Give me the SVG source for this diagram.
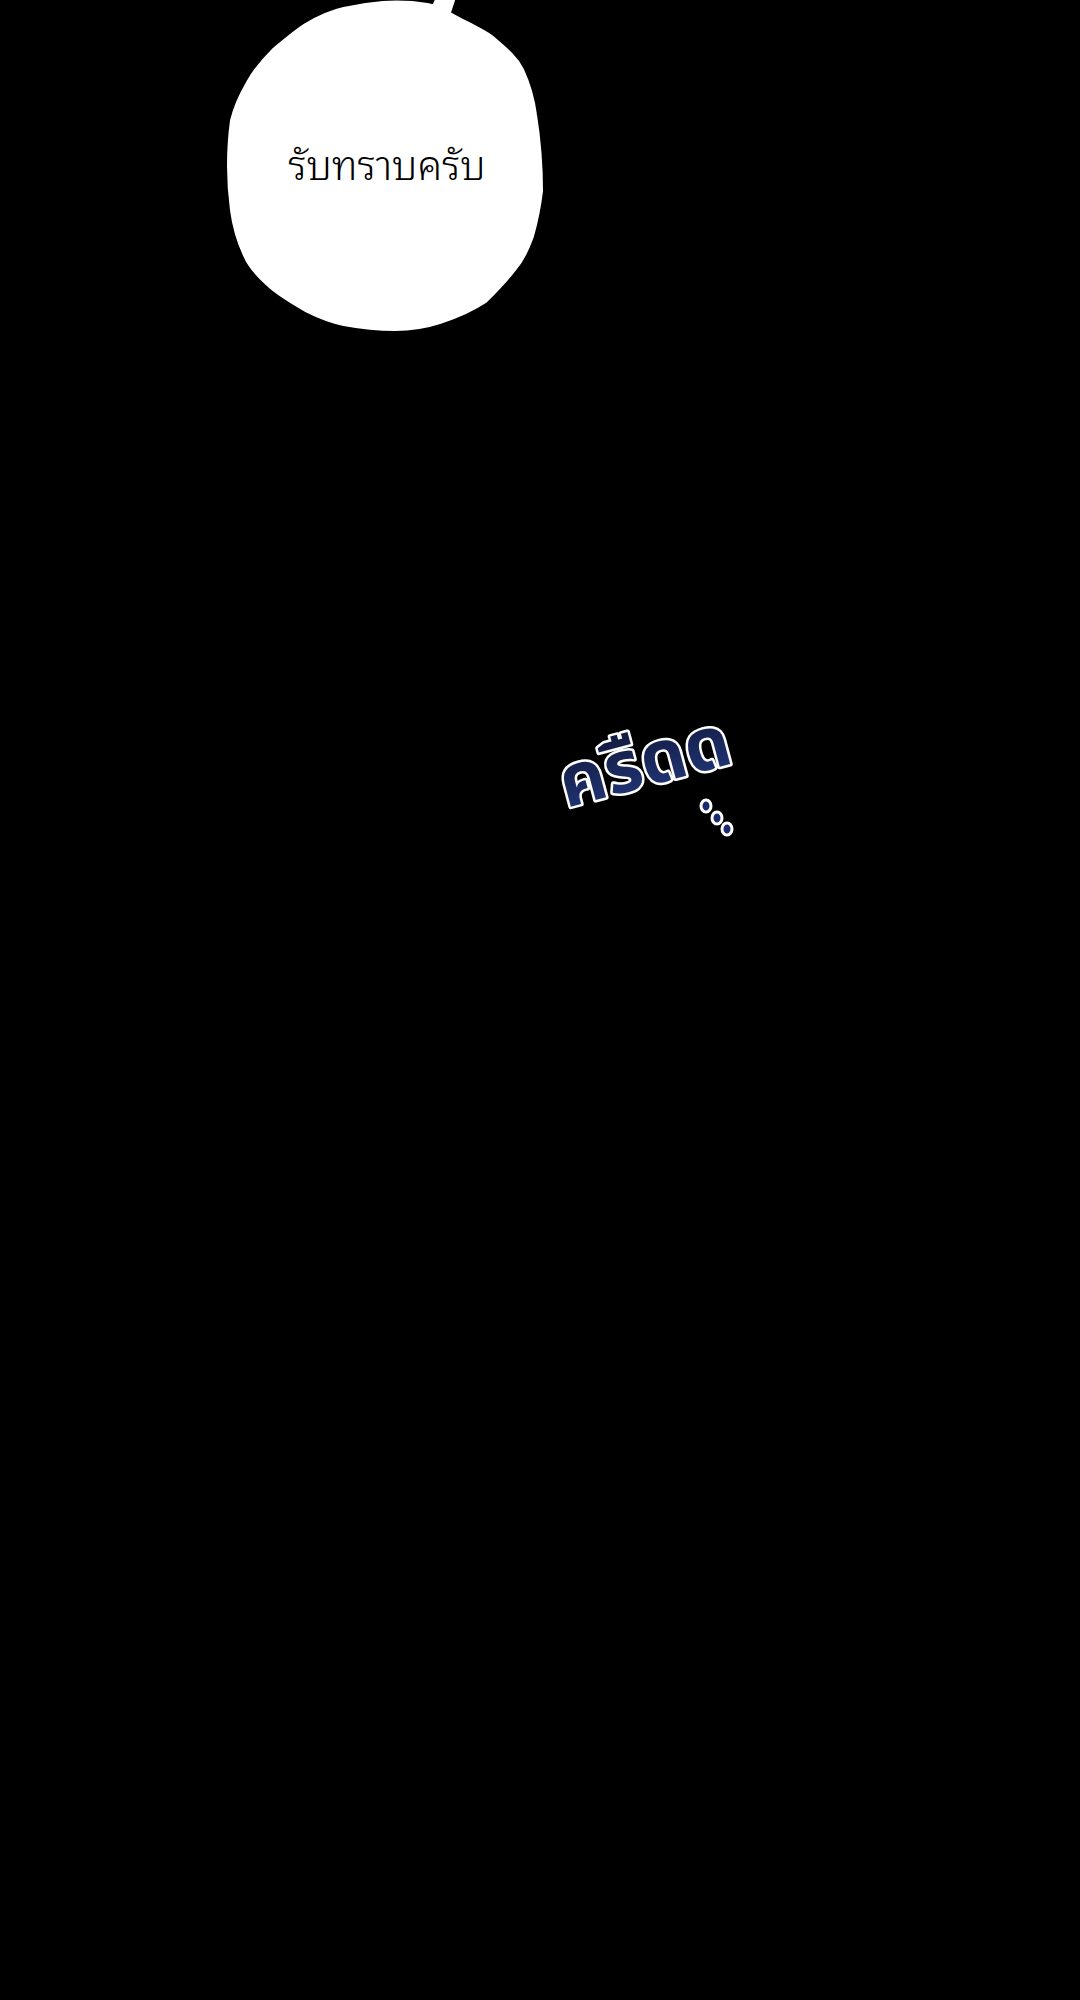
<svg xmlns="http://www.w3.org/2000/svg" width="1080" height="2000" viewBox="0 0 1080 2000">
<defs>
<style>
.bubble{fill:#fff;stroke:#fff;stroke-width:6;stroke-linejoin:round}
.speech{font-family:"Noto Sans Thai Looped","Noto Sans","Noto Sans Thai","DejaVu Sans",sans-serif;font-size:40px;font-weight:300;fill:#000;text-anchor:middle}
.sfx{font-family:"Noto Sans","Noto Sans Thai","DejaVu Sans",sans-serif;font-size:72px;font-weight:bold;fill:url(#navy);stroke:#fff;stroke-width:5;paint-order:stroke;stroke-linejoin:round}
.dot{fill:#1a2a70;stroke:#fff;stroke-width:3}
</style>
<linearGradient id="navy" x1="0" y1="0" x2="0" y2="1">
<stop offset="0" stop-color="#0e1430"/>
<stop offset="1" stop-color="#243a80"/>
</linearGradient>
</defs>
<rect width="1080" height="2000" fill="#000"/>
<g id="bubble">
<polygon class="bubble" points="438,0 452,0 446,18 432,14"/>
<path class="bubble" d="M383,4 C400,3 415,4 427,6 C437,8 442,10 446,13 C465,24 480,30 491,38 C505,50 515,58 521,70 C528,85 532,100 534,115 C538,140 540,165 540,191 C538,208 535,222 531,236 C526,250 521,260 514,268 C505,280 495,290 485,300 C470,310 455,316 440,321 C425,326 410,328 395,328 C378,328 360,326 344,323 C330,320 318,315 306,309 C292,301 278,293 268,283 C258,274 250,265 246,255 C239,240 235,225 233,210 C231,195 230,180 230,166 C230,150 231,135 233,121 C236,108 242,95 249,83 C256,70 265,60 274,51 C285,42 295,33 306,26 C318,19 330,13 344,10 C357,7 370,5 383,4 Z"/>
<text class="speech" x="387" y="180">รับทราบครับ</text>
</g>
<g id="sfx">
<text class="sfx" x="566" y="808" transform="rotate(-15 566 808)">ครืดด</text>
<ellipse class="dot" cx="706" cy="806" rx="5" ry="6"/>
<ellipse class="dot" cx="717" cy="818" rx="5" ry="6"/>
<ellipse class="dot" cx="727" cy="829" rx="5" ry="6"/>
</g>
<g id="connectors"/>
</svg>
